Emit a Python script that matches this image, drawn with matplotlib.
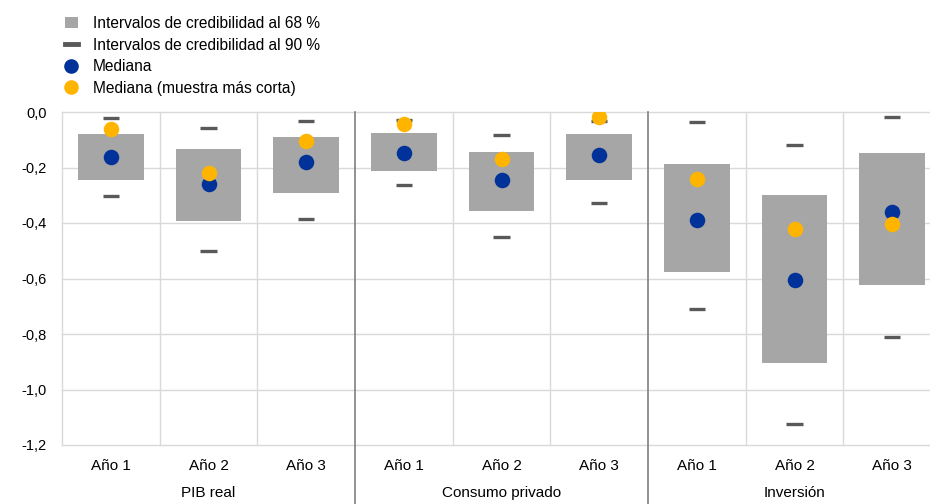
import matplotlib
matplotlib.use("Agg")
import matplotlib.pyplot as plt
from matplotlib.lines import Line2D
from matplotlib.patches import Patch
import numpy as np

groups = ["PIB real", "Consumo privado", "Inversión"]
years = ["Año 1", "Año 2", "Año 3"]

ci68_high = [-0.079, -0.135, -0.089, -0.076, -0.145, -0.080, -0.186, -0.298, -0.149]
ci68_low = [-0.245, -0.393, -0.291, -0.213, -0.356, -0.245, -0.578, -0.906, -0.623]
ci90_high = [-0.020, -0.059, -0.031, -0.029, -0.082, -0.031, -0.036, -0.119, -0.017]
ci90_low = [-0.304, -0.501, -0.386, -0.262, -0.452, -0.327, -0.711, -1.125, -0.812]
median = [-0.163, -0.261, -0.181, -0.149, -0.246, -0.155, -0.390, -0.607, -0.362]
median_short = [-0.061, -0.221, -0.103, -0.043, -0.168, -0.019, -0.243, -0.423, -0.405]

ytick_vals = [0.0, -0.2, -0.4, -0.6, -0.8, -1.0, -1.2]

GRAY = "#A6A6A6"
DASH = "#595959"
BLUE = "#003299"
YELLOW = "#FFB400"
GRID = "#D9D9D9"

plt.rcParams["font.family"] = ["Liberation Sans", "DejaVu Sans"]

fig = plt.figure(figsize=(9.3, 5.04), dpi=100)
ax = fig.add_axes([62 / 930, 59 / 504, 879 / 930, 333 / 504])

n = len(median)
x = np.arange(n)
ax.set_xlim(-0.5, n - 0.5)
ax.set_ylim(-1.2, 0.0)

# grid
for yv in ytick_vals:
    ax.axhline(yv, color=GRID, lw=1, zorder=0, clip_on=False)
for i in range(n + 1):
    xv = i - 0.5
    if i % 3 == 0 and 0 < i < n:
        ax.axvline(xv, ymin=-0.18, ymax=1, color="#7F7F7F", lw=1.2, zorder=1, clip_on=False)
    else:
        ax.axvline(xv, color=GRID, lw=1, zorder=0, clip_on=False)

bottoms = np.array(ci68_low)
heights = np.array(ci68_high) - bottoms
ax.bar(x, heights, bottom=bottoms, width=0.67, color=GRAY, zorder=2)

ax.hlines(ci90_high, x - 0.082, x + 0.082, color=DASH, lw=2.4, zorder=3)
ax.hlines(ci90_low, x - 0.082, x + 0.082, color=DASH, lw=2.4, zorder=3)

ax.scatter(x, median, s=125, color=BLUE, zorder=4, linewidths=0)
ax.scatter(x, median_short, s=125, color=YELLOW, zorder=5, linewidths=0)

for s in ax.spines.values():
    s.set_visible(False)

ax.set_yticks(ytick_vals)
ax.set_yticklabels([f"{v:.1f}".replace(".", ",") for v in ytick_vals], fontsize=10.5, color="#000000")
ax.tick_params(axis="y", length=0, pad=11)

ax.set_xticks(x)
ax.set_xticklabels(years * 3, fontsize=11)
ax.tick_params(axis="x", length=0, pad=10)

for gi, g in enumerate(groups):
    ax.text(gi * 3 + 1, -0.145, g, transform=ax.get_xaxis_transform(),
            ha="center", va="center", fontsize=11)

handles = [
    Patch(facecolor=GRAY, edgecolor="none"),
    Line2D([], [], color=DASH, lw=3.5),
    Line2D([], [], marker="o", color=BLUE, lw=0, markersize=9.5),
    Line2D([], [], marker="o", color=YELLOW, lw=0, markersize=9.5),
]
labels = [
    "Intervalos de credibilidad al 68 %",
    "Intervalos de credibilidad al 90 %",
    "Mediana",
    "Mediana (muestra más corta)",
]
fig.legend(handles, labels, loc="upper left", bbox_to_anchor=(59 / 930, 1 - 10 / 504),
           frameon=False, fontsize=11.2, handlelength=0.8, handletextpad=1.0,
           labelspacing=0.42, borderaxespad=0)

fig.savefig("out.png", dpi=100)
